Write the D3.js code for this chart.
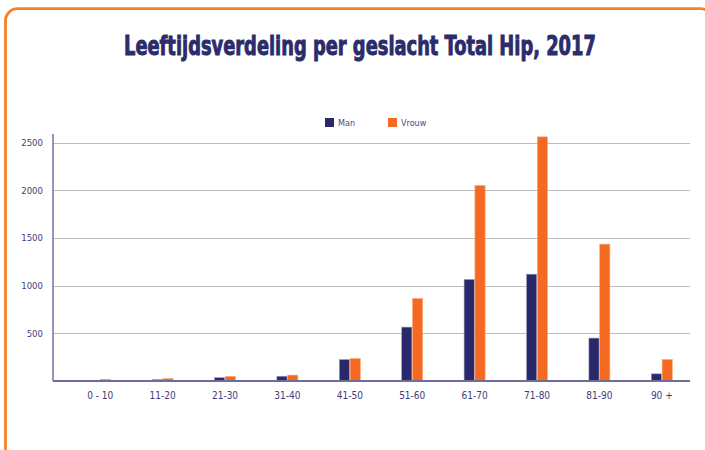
<!DOCTYPE html>
<html>
<head>
<meta charset="utf-8">
<script src="https://cdn.jsdelivr.net/npm/d3@7"></script>
<style>
  html, body { margin: 0; padding: 0; background: #fff; }
  svg { display: block; }
</style>
</head>
<body>
<div id="chart"></div>
<script>
// data
var ageGroups = ["0 - 10", "11-20", "21-30", "31-40", "41-50", "51-60", "61-70", "71-80", "81-90", "90 +"];
var manValues = [5, 15, 35, 50, 225, 565, 1065, 1120, 450, 75];
var vrouwValues = [18, 25, 48, 62, 235, 865, 2050, 2560, 1435, 225];
var seriesNames = ["Man", "Vrouw"];
var yTicks = [500, 1000, 1500, 2000, 2500];

var colors = { Man: "#28286a", Vrouw: "#f46a22" };
var textColor = "#3e3e78";

var W = 705, H = 450;
var margin = { top: 134, right: 15, bottom: 69, left: 53 };
var width = W - margin.left - margin.right,
    height = H - margin.top - margin.bottom;

var root = d3.select("#chart").append("svg")
  .attr("width", W).attr("height", H);

// orange frame (runs off the right and bottom edge)
root.append("rect")
  .attr("x", 5.5).attr("y", 8.7)
  .attr("width", 707).attr("height", 470)
  .attr("rx", 12).attr("ry", 12)
  .attr("fill", "none")
  .attr("stroke", "#f5822b")
  .attr("stroke-width", 2.8);

// title, squeezed to a condensed look
var titleG = root.append("g");
var title = titleG.append("text")
  .attr("x", 0).attr("y", 0)
  .attr("fill", "#2b2c6b")
  .attr("stroke", "#2b2c6b")
  .attr("stroke-width", 0.9)
  .style("font-family", "'Liberation Sans Narrow', 'DejaVu Sans', sans-serif")
  .style("font-stretch", "condensed")
  .style("font-weight", "bold")
  .style("font-size", "26px")
  .text("Leeftijdsverdeling per geslacht Total Hip, 2017");
var tw = title.node().getComputedTextLength();
var sx = 472 / tw;
titleG.attr("transform", "translate(124,54.5) scale(" + sx + ",1)");

var svg = root.append("g")
  .attr("transform", "translate(" + margin.left + "," + margin.top + ")");

var x = d3.scaleBand().domain(ageGroups).range([16, 640]);
var xSub = d3.scaleBand().domain(seriesNames).range([-10.5, 10.5]).paddingInner(0.06);
var y = d3.scaleLinear().domain([0, 2590]).range([height, 0]);

// gridlines
svg.append("g")
  .selectAll("line")
  .data(yTicks)
  .enter().append("line")
  .attr("x1", 0).attr("x2", width)
  .attr("y1", function (d) { return Math.round(y(d)) + 0.5; })
  .attr("y2", function (d) { return Math.round(y(d)) + 0.5; })
  .attr("stroke", "#bdbdbd")
  .attr("stroke-width", 1.2);

// y axis labels
var axY = svg.append("g")
  .call(d3.axisLeft(y).tickValues(yTicks).tickSize(0).tickPadding(10).tickFormat(d3.format("d")));
axY.select(".domain").remove();
axY.selectAll("text")
  .attr("fill", textColor)
  .style("font-family", "'DejaVu Sans', sans-serif")
  .style("font-stretch", "condensed")
  .style("font-size", "9.5px");

// bars
var rows = ageGroups.map(function (g, i) {
  return { group: g, values: [{ key: "Man", value: manValues[i] }, { key: "Vrouw", value: vrouwValues[i] }] };
});

var groups = svg.selectAll(".grp")
  .data(rows)
  .enter().append("g")
  .attr("class", "grp")
  .attr("transform", function (d) { return "translate(" + (x(d.group) + x.bandwidth() / 2) + ",0)"; });

groups.selectAll("rect")
  .data(function (d) { return d.values; })
  .enter().append("rect")
  .attr("x", function (d) { return xSub(d.key); })
  .attr("width", xSub.bandwidth())
  .attr("y", function (d) { return y(d.value); })
  .attr("height", function (d) { return height - y(d.value); })
  .attr("fill", function (d) { return colors[d.key]; })
  .attr("stroke", function (d) { return d.key === "Man" ? "#9d9dc0" : "#f9a878"; })
  .attr("stroke-width", 0.6);

// x axis
var axX = svg.append("g")
  .attr("transform", "translate(0," + height + ")")
  .call(d3.axisBottom(x).tickSize(0).tickPadding(11));
axX.select(".domain").remove();
axX.selectAll("text")
  .attr("fill", textColor)
  .style("font-family", "'DejaVu Sans', sans-serif")
  .style("font-stretch", "condensed")
  .style("font-size", "10px");

// axis lines
svg.append("line")
  .attr("x1", 0).attr("x2", 0)
  .attr("y1", 0).attr("y2", height)
  .attr("stroke", "#7373a3").attr("stroke-width", 1.5);
svg.append("line")
  .attr("x1", 0).attr("x2", width)
  .attr("y1", height).attr("y2", height)
  .attr("stroke", "#6d6d9d").attr("stroke-width", 2);

// legend
var legend = root.append("g").attr("transform", "translate(325,118)");
var items = legend.selectAll("g")
  .data(seriesNames)
  .enter().append("g")
  .attr("transform", function (d, i) { return "translate(" + (i * 63) + ",0)"; });
items.append("rect")
  .attr("width", 9).attr("height", 9)
  .attr("fill", function (d) { return colors[d]; });
items.append("text")
  .attr("x", 13).attr("y", 8)
  .attr("fill", "#4a4a80")
  .style("font-family", "'DejaVu Sans', sans-serif")
  .style("font-stretch", "condensed")
  .style("font-size", "9px")
  .text(function (d) { return d; });
</script>
</body>
</html>
